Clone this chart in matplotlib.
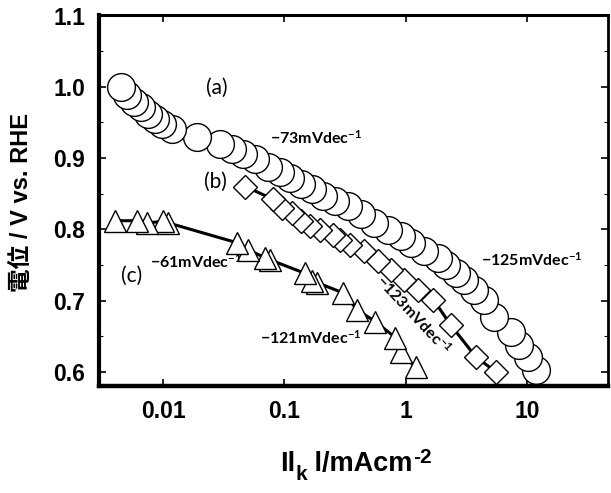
import matplotlib
matplotlib.use("Agg")
import matplotlib.pyplot as plt
from matplotlib.ticker import FixedLocator, FixedFormatter, NullLocator

# ---------------- data ----------------
a_current = [0.0045, 0.00504, 0.00576, 0.00658, 0.00752, 0.00859, 0.00981, 0.0119,
             0.0191, 0.0296, 0.0372, 0.0458, 0.0576, 0.0738, 0.0927, 0.112, 0.136,
             0.170, 0.210, 0.264, 0.332, 0.425, 0.544, 0.710, 0.910, 1.10, 1.41,
             1.84, 2.14, 2.59, 3.01, 3.65, 4.41, 5.33, 7.38, 8.59, 10.2, 11.9]
a_potential = [1.000, 0.989, 0.979, 0.971, 0.962, 0.955, 0.948, 0.941, 0.930, 0.919,
               0.912, 0.905, 0.898, 0.888, 0.881, 0.872, 0.864, 0.856, 0.847, 0.839,
               0.832, 0.822, 0.809, 0.799, 0.790, 0.781, 0.769, 0.760, 0.750, 0.739,
               0.729, 0.715, 0.701, 0.677, 0.656, 0.638, 0.621, 0.603]

b_current = [0.0477, 0.0811, 0.0962, 0.116, 0.136, 0.164, 0.198, 0.254, 0.290, 0.351,
             0.450, 0.587, 0.752, 0.962, 1.26, 1.70, 2.35, 3.79, 5.54]
b_potential = [0.860, 0.842, 0.830, 0.823, 0.811, 0.805, 0.799, 0.792, 0.785, 0.778,
               0.769, 0.755, 0.743, 0.729, 0.715, 0.701, 0.666, 0.621, 0.600]

c_current = [0.00401, 0.00610, 0.00738, 0.0100, 0.0110, 0.0409, 0.0504, 0.0697, 0.0766,
             0.149, 0.170, 0.187, 0.302, 0.401, 0.565, 0.826, 0.910, 1.21]
c_potential = [0.812, 0.812, 0.809, 0.811, 0.809, 0.781, 0.771, 0.760, 0.757, 0.738,
               0.728, 0.725, 0.711, 0.687, 0.670, 0.648, 0.628, 0.606]

x_ticks = [0.01, 0.1, 1, 10]
x_tick_labels = ["0.01", "0.1", "1", "10"]
y_ticks = [0.6, 0.7, 0.8, 0.9, 1.0, 1.1]
y_tick_labels = ["0.6", "0.7", "0.8", "0.9", "1.0", "1.1"]
y_minor = [0.65, 0.75, 0.85, 0.95, 1.05]

ylabel_text = "電位 / V vs. RHE"
series_labels = ["(a)", "(b)", "(c)"]
slope_labels = ["-73mVdec", "-125mVdec", "-123mVdec", "-61mVdec", "-121mVdec"]

# ---------------- style ----------------
plt.rcParams["mathtext.fontset"] = "custom"
plt.rcParams["mathtext.rm"] = "Lato"
plt.rcParams["mathtext.bf"] = "Lato:bold"
plt.rcParams["mathtext.it"] = "Lato:italic"

TICKFONT = ["Liberation Sans", "DejaVu Sans"]
ANNFONT = ["Lato", "DejaVu Sans"]

fig = plt.figure(figsize=(6.11, 4.93), dpi=100)
ax = fig.add_axes([0.162, 0.217, 0.833, 0.753])
ax.set_xscale("log")
ax.set_xlim(0.00296, 46.7)
ax.set_ylim(0.58, 1.101)

line_kw = dict(color="black", lw=2.2, mfc="white", mec="black", mew=1.0)
ax.plot(a_current[::-1], a_potential[::-1], marker="o", ms=20.0, zorder=2, **line_kw)
ax.plot(b_current[::-1], b_potential[::-1], marker="D", ms=12.0, zorder=3, **line_kw)
ax.plot(c_current[::-1], c_potential[::-1], marker="^", ms=16.5, zorder=4, **line_kw)

# ticks
ax.xaxis.set_major_locator(FixedLocator(x_ticks))
ax.xaxis.set_major_formatter(FixedFormatter(x_tick_labels))
ax.xaxis.set_minor_locator(NullLocator())
ax.yaxis.set_major_locator(FixedLocator(y_ticks))
ax.yaxis.set_major_formatter(FixedFormatter(y_tick_labels))
ax.yaxis.set_minor_locator(FixedLocator(y_minor))
ax.tick_params(which="both", direction="in", top=True, right=True)
ax.tick_params(which="major", length=5, width=1.2, pad=10)
ax.tick_params(which="minor", length=3, width=0.8)
for lab in ax.get_xticklabels() + ax.get_yticklabels():
    lab.set_fontfamily(TICKFONT)
    lab.set_fontweight("bold")
    lab.set_fontsize(16.5)

for side, lw in (("left", 3.0), ("bottom", 3.2), ("top", 2.2), ("right", 2.0)):
    ax.spines[side].set_linewidth(lw)

# y label
fig.text(22 / 611, 1 - 202 / 493, ylabel_text, rotation=90, ha="center", va="center",
         fontsize=17, fontweight="bold",
         family=["Liberation Sans", "Noto Sans CJK JP", "DejaVu Sans"])

# x label built from pieces: Il_k l/mAcm^-2
xl_kw = dict(fontsize=19.5, fontweight="bold", family=TICKFONT)
t0 = fig.text(280 / 611, 1 - 471 / 493, "Il", ha="left", va="baseline", **xl_kw)
t1 = ax.annotate("k", xy=(1, 0), xycoords=t0, xytext=(0.5, -5), textcoords="offset points",
                 ha="left", va="bottom", fontsize=15, fontweight="bold", family=TICKFONT,
                 annotation_clip=False)
t2 = ax.annotate(" l/mAcm", xy=(1, 0), xycoords=t1, xytext=(0, 5), textcoords="offset points",
                 ha="left", va="bottom", annotation_clip=False, **xl_kw)
t3 = ax.annotate("-2", xy=(1, 1), xycoords=t2, xytext=(0.5, 2), textcoords="offset points",
                 ha="left", va="top", fontsize=15, fontweight="bold", family=TICKFONT,
                 annotation_clip=False)

# series labels
ann = dict(fontsize=15, family=ANNFONT, ha="center", va="center", zorder=6)
ax.text(0.0279, 0.999, series_labels[0], **ann)
ax.text(0.0269, 0.867, series_labels[1], **ann)
ax.text(0.00554, 0.735, series_labels[2], **ann)

# slope labels with superscript
SL = 11.5
def slope_label(x, y, s, rot=0, ha="left"):
    txt = r"$\mathbf{" + s.replace("-", "{-}") + r"^{-1}}$"
    ax.text(x, y, txt, fontsize=SL, rotation=rot, rotation_mode="anchor",
            ha=ha, va="center", zorder=6)

slope_label(0.0766, 0.928, slope_labels[0])
slope_label(4.17, 0.757, slope_labels[1])
slope_label(1.16, 0.680, slope_labels[2], rot=-47, ha="center")
slope_label(0.00781, 0.755, slope_labels[3])
slope_label(0.0634, 0.648, slope_labels[4])

fig.savefig("out.png", dpi=100)
